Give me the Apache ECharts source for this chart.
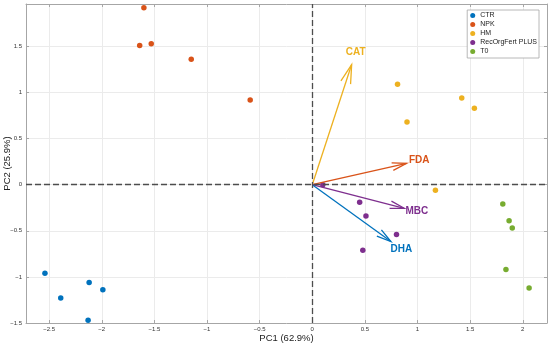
<!DOCTYPE html>
<html><head><meta charset="utf-8">
<script src="https://cdn.jsdelivr.net/npm/echarts@6/dist/echarts.min.js"></script>
<style>html,body{margin:0;padding:0;background:#fff}#c{width:550px;height:346px}</style>
</head><body><div id="c"></div>
<script>
// ---- data ----
const groups = ['CTR', 'NPK', 'HM', 'RecOrgFert PLUS', 'T0'];
const ctrPC1 = [-2.54, -2.39, -2.12, -1.99, -2.13];
const ctrPC2 = [-0.96, -1.23, -1.06, -1.14, -1.47];
const npkPC1 = [-1.60, -1.64, -1.53, -1.15, -0.59];
const npkPC2 = [1.92, 1.51, 1.53, 1.36, 0.92];
const hmPC1 = [0.81, 1.42, 1.54, 0.90, 1.17];
const hmPC2 = [1.09, 0.94, 0.83, 0.68, -0.06];
const recPC1 = [0.10, 0.45, 0.51, 0.80, 0.48];
const recPC2 = [0.00, -0.19, -0.34, -0.54, -0.71];
const t0PC1 = [1.81, 1.87, 1.90, 1.84, 2.06];
const t0PC2 = [-0.21, -0.39, -0.47, -0.92, -1.12];
const varNames = ['CAT', 'FDA', 'MBC', 'DHA'];
const loadPC1 = [0.374, 0.896, 0.874, 0.747];
const loadPC2 = [1.303, 0.231, -0.256, -0.617];
const xName = 'PC1 (62.9%)';
const yName = 'PC2 (25.9%)';

// ---- styles ----
const groupColors = ['#0072BD', '#D95319', '#EDB120', '#7E2F8E', '#77AC30'];
const varColors = {CAT: '#EDB120', FDA: '#D95319', MBC: '#7E2F8E', DHA: '#0072BD'};
const xs = [ctrPC1, npkPC1, hmPC1, recPC1, t0PC1];
const ys = [ctrPC2, npkPC2, hmPC2, recPC2, t0PC2];
const fmt = v => String(+v.toFixed(2)).replace('-', '\u2212');
const FONT = 'Liberation Sans, Arial, sans-serif';

const chart = echarts.init(document.getElementById('c'), null, {renderer: 'canvas'});

const scatterSeries = groups.map((g, i) => ({
  name: g, type: 'scatter', symbol: 'circle', symbolSize: 5.5,
  itemStyle: {color: groupColors[i], opacity: 1},
  data: xs[i].map((x, k) => [x, ys[i][k]]),
  z: 3
}));

const arrowSeries = {
  type: 'custom', name: 'loadings', silent: true, z: 4,
  data: varNames.map((n, i) => [loadPC1[i], loadPC2[i], i]),
  renderItem: function (params, api) {
    const i = api.value(2);
    const name = varNames[i];
    const col = varColors[name];
    const o = api.coord([0, 0]);
    const t = api.coord([api.value(0), api.value(1)]);
    const dx = t[0] - o[0], dy = t[1] - o[1];
    const len = Math.sqrt(dx * dx + dy * dy);
    const ux = dx / len, uy = dy / len;
    const hl = len * 0.155, a = 15 * Math.PI / 180;
    const bx = -ux, by = -uy;
    const r1 = [t[0] + hl * (bx * Math.cos(a) - by * Math.sin(a)), t[1] + hl * (bx * Math.sin(a) + by * Math.cos(a))];
    const r2 = [t[0] + hl * (bx * Math.cos(-a) - by * Math.sin(-a)), t[1] + hl * (bx * Math.sin(-a) + by * Math.cos(-a))];
    const lab = [t[0] + ux * 13, t[1] + uy * 13];
    return {
      type: 'group',
      children: [
        {type: 'line', shape: {x1: o[0], y1: o[1], x2: t[0], y2: t[1]}, style: {stroke: col, lineWidth: 1.3}},
        {type: 'polyline', shape: {points: [r1, t, r2]}, style: {stroke: col, lineWidth: 1.3, fill: null}},
        {type: 'text', x: lab[0], y: lab[1], style: {text: name, fill: col, font: 'bold 10px ' + FONT, align: 'center', verticalAlign: 'middle'}}
      ]
    };
  }
};

const zeroSeries = {
  type: 'scatter', name: 'zero', data: [], silent: true,
  markLine: {
    silent: true, symbol: 'none', label: {show: false},
    lineStyle: {color: '#4d4d4d', type: [6, 3], width: 1.3},
    data: [{xAxis: 0}, {yAxis: 0}]
  },
  z: 2
};

const axisCommon = {
  axisLine: {show: true, onZero: false, lineStyle: {color: '#a6a6a6', width: 1}},
  axisTick: {show: true, inside: true, length: 3, lineStyle: {color: '#a6a6a6'}},
  minInterval: 0.5, maxInterval: 0.5
};

chart.setOption({
  animation: false,
  textStyle: {fontFamily: FONT},
  grid: {left: 26, right: 3, top: 4, bottom: 23, containLabel: false, outerBoundsMode: 'none'},
  legend: {
    data: groups, orient: 'vertical', right: 11, top: 10,
    icon: 'circle', itemWidth: 5, itemHeight: 5, itemGap: 2,
    padding: [2, 2, 3, 3],
    backgroundColor: '#fff', borderColor: '#a6a6a6', borderWidth: 0.8, borderRadius: 0,
    textStyle: {fontSize: 7, lineHeight: 7, color: '#222', fontFamily: FONT},
    selectedMode: false
  },
  xAxis: [
    Object.assign({}, axisCommon, {
      type: 'value', position: 'bottom', min: -2.72, max: 2.23,
      name: xName, nameLocation: 'middle', nameGap: 10, nameMoveOverlap: false,
      nameTextStyle: {fontSize: 9.5, color: '#222', fontFamily: FONT},
      axisLabel: {fontSize: 6, color: '#333', margin: 3, formatter: fmt, showMinLabel: false, showMaxLabel: false},
      splitLine: {show: true, lineStyle: {color: '#ebebeb', width: 1}}
    }),
    Object.assign({}, axisCommon, {
      type: 'value', position: 'top', min: -2.72, max: 2.23,
      axisLabel: {show: false}, splitLine: {show: false}
    })
  ],
  yAxis: [
    Object.assign({}, axisCommon, {
      type: 'value', position: 'left', min: -1.5, max: 1.96,
      name: yName, nameLocation: 'middle', nameGap: 14, nameRotate: 90, nameMoveOverlap: false,
      nameTextStyle: {fontSize: 9.5, color: '#222', fontFamily: FONT},
      axisLabel: {fontSize: 6, color: '#333', margin: 4, formatter: fmt, showMinLabel: true, showMaxLabel: false},
      splitLine: {show: true, lineStyle: {color: '#ebebeb', width: 1}}
    }),
    Object.assign({}, axisCommon, {
      type: 'value', position: 'right', min: -1.5, max: 1.96,
      axisLabel: {show: false}, splitLine: {show: false}
    })
  ],
  series: [zeroSeries, arrowSeries].concat(scatterSeries)
});
</script>
</body></html>
